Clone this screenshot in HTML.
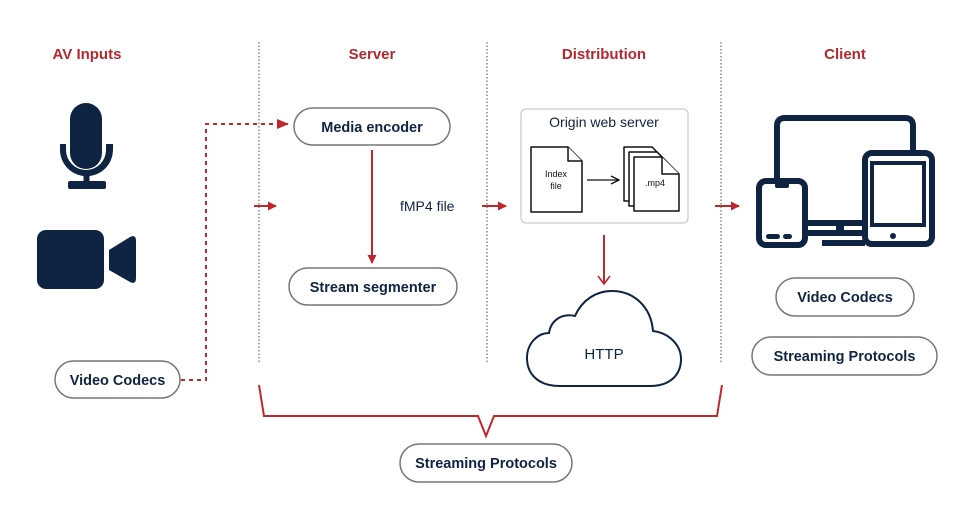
<!DOCTYPE html>
<html><head><meta charset="utf-8"><style>
html,body{margin:0;padding:0;background:#fff;}
svg{display:block;}
text{font-family:"Liberation Sans",sans-serif;}
</style></head><body>
<svg width="975" height="525" viewBox="0 0 975 525" xmlns="http://www.w3.org/2000/svg">
<defs>
<marker id="ah" markerWidth="9" markerHeight="9" refX="8" refY="4.5" orient="auto" markerUnits="userSpaceOnUse"><path d="M0,0 L9,4.5 L0,9 Z" fill="#c0272d"/></marker>
<marker id="ah2" markerWidth="12" markerHeight="10" refX="11" refY="5" orient="auto" markerUnits="userSpaceOnUse"><path d="M0,0 L12,5 L0,10 Z" fill="#c0272d"/></marker>
<marker id="vh" markerWidth="12" markerHeight="14" refX="9" refY="7" orient="auto" markerUnits="userSpaceOnUse"><path d="M1,1 L9,7 L1,13" fill="none" stroke="#c0272d" stroke-width="1.6"/></marker>
<marker id="bk" markerWidth="10" markerHeight="10" refX="9" refY="5" orient="auto" markerUnits="userSpaceOnUse"><path d="M1,1 L9,5 L1,9" fill="none" stroke="#111" stroke-width="1.3"/></marker>
</defs>
<g font-weight="bold" font-size="15" fill="#b5272d" text-anchor="middle">
<text x="87" y="59">AV Inputs</text>
<text x="372" y="59">Server</text>
<text x="604" y="59">Distribution</text>
<text x="845" y="59">Client</text>
</g>
<g stroke="#777" stroke-width="1.3" stroke-dasharray="1.5,2">
<line x1="259" y1="42" x2="259" y2="362"/>
<line x1="487" y1="42" x2="487" y2="362"/>
<line x1="721" y1="42" x2="721" y2="362"/>
</g>
<!-- mic -->
<g fill="#0f2342">
<rect x="70" y="103" width="32" height="66" rx="16"/>
<path d="M60,144 L66,144 L66,150 A20,20 0 0 0 106,150 L106,144 L113,144 L113,150 A26.5,26.5 0 0 1 89.5,176 L89.5,182 L83.5,182 L83.5,176 A26.5,26.5 0 0 1 60,150 Z"/>
<rect x="68" y="181" width="38" height="8" rx="2"/>
<rect x="37" y="230" width="67" height="59" rx="9"/>
<path d="M109,250 L130,237 Q136,234 136,241 L136,278 Q136,285 130,282 L109,270 Z"/>
</g>
<!-- devices -->
<g fill="none" stroke="#0f2342" stroke-width="6" stroke-linejoin="round">
<path d="M777,182 L777,126 Q777,118 785,118 L905,118 Q913,118 913,126 L913,153"/>
<path d="M808,223 L865,223"/>
<path d="M808,233 L865,233"/>
<path d="M822,243 L865,243"/>
<rect x="759" y="181" width="46" height="64" rx="7"/>
<rect x="865" y="153" width="67" height="91" rx="7"/>
</g>
<rect x="872" y="163" width="52" height="62" fill="none" stroke="#0f2342" stroke-width="4"/>
<circle cx="893" cy="236" r="3" fill="#0f2342"/>
<rect x="775" y="183" width="14" height="5" rx="2" fill="#0f2342"/>
<rect x="766" y="234" width="14" height="5" rx="2.5" fill="#0f2342"/>
<rect x="783" y="234" width="9" height="5" rx="2.5" fill="#0f2342"/>
<rect x="836" y="226" width="8" height="10" fill="#0f2342"/>
<!-- pills -->
<g fill="#fff" stroke="#777" stroke-width="1.5">
<rect x="55" y="361" width="125" height="37" rx="18.5"/>
<rect x="294" y="108" width="156" height="37" rx="18.5"/>
<rect x="289" y="268" width="168" height="37" rx="18.5"/>
<rect x="776" y="278" width="138" height="38" rx="19"/>
<rect x="752" y="337" width="185" height="38" rx="19"/>
<rect x="400" y="444" width="172" height="38" rx="19"/>
</g>
<g font-weight="bold" font-size="14.5" fill="#0f2342" text-anchor="middle">
<text x="117.5" y="385">Video Codecs</text>
<text x="372" y="132">Media encoder</text>
<text x="373" y="292">Stream segmenter</text>
<text x="845" y="302">Video Codecs</text>
<text x="844.5" y="361">Streaming Protocols</text>
<text x="486" y="468">Streaming Protocols</text>
</g>
<!-- dotted red connector -->
<path d="M181,380 L206,380 L206,124 L288,124" fill="none" stroke="#c0272d" stroke-width="2" stroke-dasharray="4,4" marker-end="url(#ah2)"/>
<g stroke="#c0272d" stroke-width="2" fill="none">
<line x1="254" y1="206" x2="276" y2="206" marker-end="url(#ah)"/>
<line x1="482" y1="206" x2="506" y2="206" marker-end="url(#ah)"/>
<line x1="715" y1="206" x2="739" y2="206" marker-end="url(#ah)"/>
<line x1="372" y1="150" x2="372" y2="263" marker-end="url(#ah)"/>
<line x1="604" y1="235" x2="604" y2="284" marker-end="url(#vh)"/>
<path d="M259,385 L264,416 L478,416 L486,436 L494,416 L717,416 L722,385"/>
</g>
<text x="400" y="211" font-size="14" fill="#0f2342">fMP4 file</text>
<!-- origin box -->
<rect x="521" y="109" width="167" height="114" rx="5" fill="#fff" stroke="#ccc" stroke-width="1.3"/>
<text x="604" y="127" font-size="14" fill="#0f2342" text-anchor="middle">Origin web server</text>
<g fill="#fff" stroke="#111" stroke-width="1.5" stroke-linejoin="round">
<path d="M531,147 L568,147 L582,161 L582,212 L531,212 Z"/>
<path d="M568,147 L568,161 L582,161"/>
<path d="M624,147 L652,147 L662,157 L662,201 L624,201 Z"/>
<path d="M629,152 L657,152 L667,162 L667,206 L629,206 Z"/>
<path d="M634,157 L662,157 L679,174 L679,211 L634,211 Z"/>
<path d="M662,157 L662,174 L679,174"/>
</g>
<text x="556" y="177" font-size="9" fill="#111" text-anchor="middle">Index</text>
<text x="556" y="189" font-size="9" fill="#111" text-anchor="middle">file</text>
<text x="655" y="186" font-size="9" fill="#111" text-anchor="middle">.mp4</text>
<line x1="587" y1="180" x2="619" y2="180" stroke="#111" stroke-width="1.3" marker-end="url(#bk)"/>
<!-- cloud -->
<path d="M560,386 C537,386 527,373 527,358 C527,343 538,333 549,333 C551,320 562,313 575,316 C582,300 596,291 612,291 C633,291 651,306 653,331 C669,333 681,345 681,359 C681,375 670,386 650,386 Z" fill="#fff" stroke="#0f2342" stroke-width="2"/>
<text x="604" y="359" font-size="15" fill="#0f2342" text-anchor="middle">HTTP</text>
</svg>
</body></html>
